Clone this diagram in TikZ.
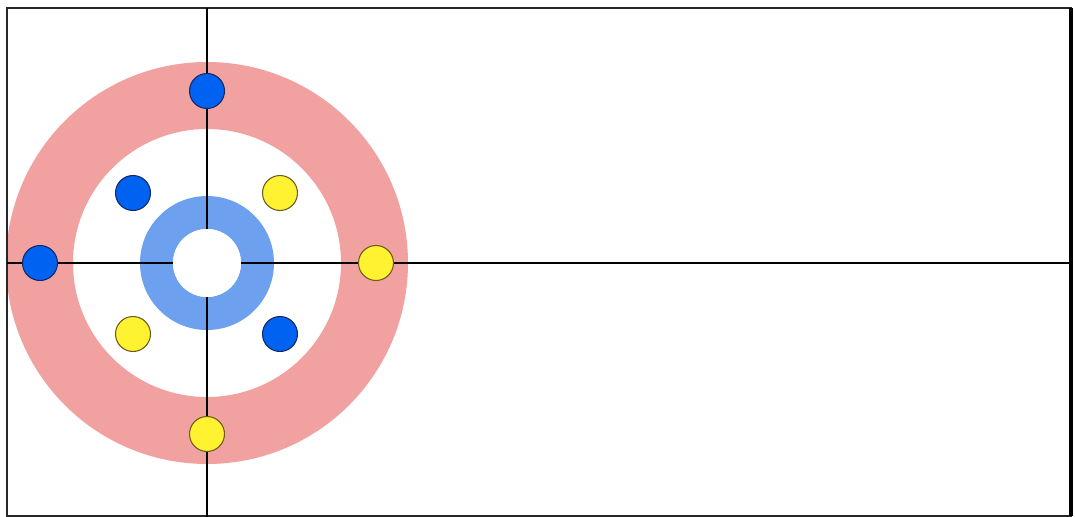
\documentclass[tikz,border=0pt]{standalone}
\usetikzlibrary{positioning}

\definecolor{houseRed}{RGB}{241,162,160}
\definecolor{houseBlue}{RGB}{110,160,240}
\definecolor{stoneBlue}{RGB}{0,98,240}
\definecolor{stoneYellow}{RGB}{255,242,48}
\definecolor{rimYellow}{RGB}{110,90,30}
\definecolor{rimBlue}{RGB}{20,40,100}

\tikzset{
	stone/.style={circle, minimum size=0.7cm, inner sep=0pt, line width=0.6pt},
	bluestone/.style={stone, draw=rimBlue, fill=stoneBlue},
	yellowstone/.style={stone, draw=rimYellow, fill=stoneYellow},
	tee/.style={circle, fill=white, minimum size=1.36cm, inner sep=0pt},
	sheetline/.style={line width=1.1pt, black}
}

\begin{document}
\begin{tikzpicture}[x=0.02cm,y=-0.02cm]
		\useasboundingbox (0,0) rectangle (1075,517);
		
		% house
		\fill[houseRed, even odd rule] (207,263) circle[radius=201] (207,263) circle[radius=134];
		\fill[houseBlue, even odd rule] (207,263) circle[radius=67] (207,263) circle[radius=34];
		
		% sheet
		\draw[line width=1.1pt, black!85] (7,8) rectangle (1071,516);
		\draw[line width=2pt] (1071,8) -- (1071,516);
		
		\coordinate (top) at (207,8);
		\coordinate (bottom) at (207,517);
		\coordinate (left) at (7,263);
		\coordinate (right) at (1071,263);
		
		\draw[sheetline] (top) -- (bottom);
		\draw[sheetline] (left) -- (right);
		
		\node[tee] at (207,263) (button) {};
		
		% stones
		\node[bluestone] at (207,91) (b1) {};
		\node[bluestone] at (40,263) (b2) {};
		\node[bluestone] at (133,193) (b3) {};
		\node[bluestone] at (280,334) (b4) {};
		\node[yellowstone] at (376,263) (y1) {};
		\node[yellowstone] at (207,434) (y2) {};
		\node[yellowstone] at (280,193) (y3) {};
		\node[yellowstone] at (133,334) (y4) {};
	\end{tikzpicture}
\end{document}
